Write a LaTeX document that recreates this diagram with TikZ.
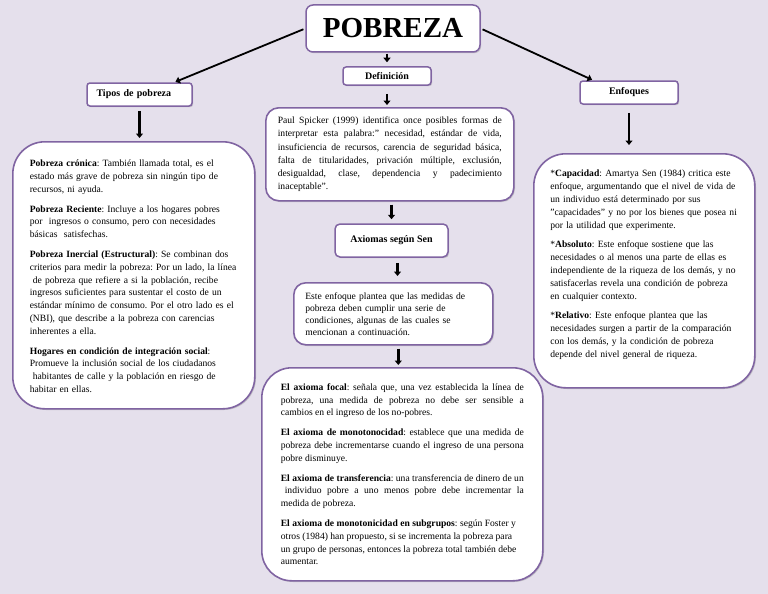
\documentclass[tikz,border=0pt]{standalone}
\usepackage{fontspec}
\setmainfont{Liberation Serif}
\usetikzlibrary{positioning,arrows.meta,calc,shadows}
\definecolor{fondo}{HTML}{E5E0EC}
\definecolor{morado}{HTML}{8064A2}
\frenchspacing
\newcommand{\letraC}{\fontsize{9.6}{12.8}\selectfont}
\tikzset{
  sombra/.style={drop shadow={shadow xshift=1.2pt,shadow yshift=-1.2pt,opacity=.35,fill=black!50}},
  cajaT/.style={draw=morado,fill=white,line width=1.5pt,rounded corners=3pt,inner sep=2pt,font=\bfseries\fontsize{10}{12}\selectfont,sombra},
  cajaC/.style={draw=morado,fill=white,line width=1.6pt,inner sep=0pt,anchor=north west,font=\letraC,sombra},
  flecha/.style={-{Triangle[length=4.5pt,width=7pt]},line width=2.4pt},
}

\begin{document}
\begin{tikzpicture}[x=1pt,y=-1pt]
  \fill[fondo] (0,0) rectangle (768,594);
  \useasboundingbox (0,0) rectangle (768,594);
  % titulo y ramas
  \node[cajaT,rounded corners=7pt,minimum width=174pt,minimum height=47pt,font=\bfseries\fontsize{29}{30}\selectfont] (pobreza) at (393,28.5) {POBREZA};
  \node[cajaT,minimum width=88pt,minimum height=18pt] (def) at (387,76) {Definición};
  \node[cajaT,minimum width=105pt,minimum height=23pt,text width=86pt,align=left] (tipos) at (139.5,94.5) {Tipos de pobreza};
  \node[cajaT,minimum width=98pt,minimum height=23pt] (enf) at (629,92.5) {Enfoques};
  % tipos de pobreza
  \node[cajaC,rounded corners=32pt,minimum width=242pt,minimum height=267pt,text width=208pt,align=left] (tiposC) at (12,141) {\hrule height0pt width0pt\vspace{2pt}%
    \textbf{Pobreza crónica}: También llamada total, es el\\
    estado más grave de pobreza sin ningún tipo de\\
    recursos, ni ayuda.\\[7pt]
    \textbf{Pobreza Reciente}: Incluye a los hogares pobres\\
    por\ \ ingresos o consumo, pero con necesidades\\
    básicas\ \ satisfechas.\\[7pt]
    \textbf{Pobreza Inercial (Estructural)}: Se combinan dos\\
    criterios para medir la pobreza: Por un lado, la línea\\
    \hspace*{3pt}de pobreza que refiere a si la población, recibe\\
    ingresos suficientes para sustentar el costo de un\\
    estándar mínimo de consumo. Por el otro lado es el\\
    (NBI), que describe a la pobreza con carencias\\
    inherentes a ella.\\[7pt]
    \textbf{Hogares en condición de integración social}:\\
    Promueve la inclusión social de los ciudadanos\\
    \hspace*{3pt}habitantes de calle y la población en riesgo de\\
    habitar en ellas.};
  % definicion
  \node[cajaC,rounded corners=13pt,minimum width=248pt,minimum height=93pt,text width=224pt,align=justify,font=\fontsize{9.6}{13.3}\selectfont] (spicker) at (265,107) {%
    Paul Spicker (1999) identifica once posibles formas de\linebreak
    interpretar esta palabra:” necesidad, estándar de vida,\linebreak
    insuficiencia de recursos, carencia de seguridad básica,\linebreak
    falta de titularidades, privación múltiple, exclusión,\linebreak
    desigualdad, clase, dependencia y padecimiento\linebreak
    inaceptable”.};
  \node[cajaT,rounded corners=5pt,minimum width=113pt,minimum height=33pt] (sen) at (391.5,240.5) {Axiomas según Sen};
  \node[cajaC,rounded corners=12pt,minimum width=199pt,minimum height=62pt,text width=176pt,align=left,font=\fontsize{9.6}{12}\selectfont] (este) at (293,282) {%
    Este enfoque plantea que las medidas de\\
    pobreza deben cumplir una serie de\\
    condiciones, algunas de las cuales se\\
    mencionan a continuación.};
  \node[cajaC,rounded corners=30pt,minimum width=281pt,minimum height=213pt,text width=243pt,align=justify] (axiomas) at (261,367) {%
    \textbf{El axioma focal}: señala que, una vez establecida la línea de\linebreak
    pobreza, una medida de pobreza no debe ser sensible a\linebreak
    cambios en el ingreso de los no-pobres.\\[7pt]
    \textbf{El axioma de monotonocidad}: establece que una medida de\linebreak
    pobreza debe incrementarse cuando el ingreso de una persona\linebreak
    pobre disminuye.\\[7pt]
    \textbf{El axioma de transferencia}: una transferencia de dinero de un\linebreak
    \hspace*{4pt}individuo pobre a uno menos pobre debe incrementar la\linebreak
    medida de pobreza.\\[7pt]
    \textbf{El axioma de monotonicidad en subgrupos}: según Foster y\\
    otros (1984) han propuesto, si se incrementa la pobreza para\\
    un grupo de personas, entonces la pobreza total también debe\\
    aumentar.};
  % enfoques
  \node[cajaC,rounded corners=32pt,minimum width=221pt,minimum height=234pt,text width=188pt,align=left] (enfC) at (533,153) {%
    *\textbf{Capacidad}: Amartya Sen (1984) critica este\\
    enfoque, argumentando que el nivel de vida de\\
    un individuo está determinado por sus\\
    "capacidades" y no por los bienes que posea ni\\
    por la utilidad que experimente.\\[7pt]
    *\textbf{Absoluto}: Este enfoque sostiene que las\\
    necesidades o al menos una parte de ellas es\\
    independiente de la riqueza de los demás, y no\\
    satisfacerlas revela una condición de pobreza\\
    en cualquier contexto.\\[7pt]
    *\textbf{Relativo}: Este enfoque plantea que las\\
    necesidades surgen a partir de la comparación\\
    con los demás, y la condición de pobreza\\
    depende del nivel general de riqueza.\par\vspace{12pt}\hrule height0pt width0pt};
  % flechas
  \draw[flecha,line width=1.8pt,shorten <=2pt,shorten >=1pt] (pobreza.west) -- ([xshift=35pt]tipos.north);
  \draw[flecha,line width=1.8pt,shorten <=2pt,shorten >=1pt] (pobreza.east) -- ([xshift=-36pt]enf.north);
  \draw[flecha,shorten <=1pt,shorten >=4pt] (def.north |- pobreza.south) -- (def.north);
  \draw[flecha,shorten <=8pt,shorten >=2pt] (def.south) -- (def.south |- spicker.north);
  \draw[flecha,shorten <=4pt,shorten >=3pt] (tipos.south) -- (tipos.south |- tiposC.north);
  \draw[flecha,line width=2.8pt,shorten <=8pt,shorten >=8pt] (enf.south) -- (enf.south |- enfC.north);
  \draw[flecha,shorten <=3pt,shorten >=4pt] (sen.north |- spicker.south) -- (sen.north);
  \draw[flecha,shorten <=5pt,shorten >=6pt] ($(sen.south)+(6,0)$) -- ($(sen.south |- este.north)+(6,0)$);
  \draw[flecha,shorten <=3pt,shorten >=2pt] ($(este.south)+(5,0)$) -- ($(este.south |- axiomas.north)+(5,0)$);
\end{tikzpicture}
\end{document}
